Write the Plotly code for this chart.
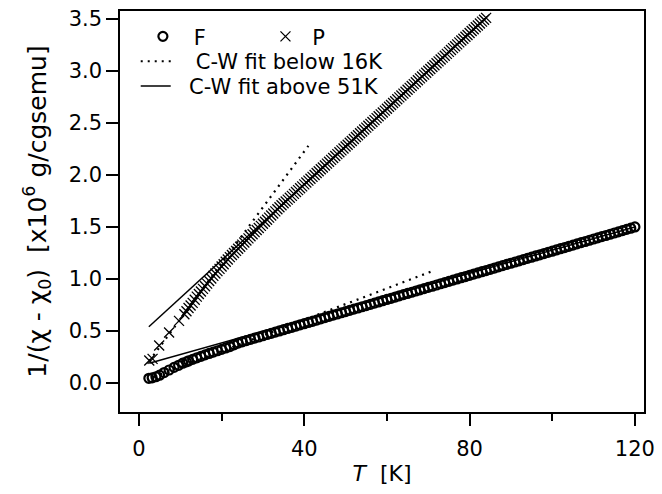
import plotly.graph_objects as go

# ---- measured inverse susceptibility, sample F (open circles) ----
t_f = [2.4, 3.2, 4.1, 5.0, 6.1, 7.3, 8.5, 9.6, 10.6, 11.5,
       12, 13, 14, 15, 16, 17, 18, 19, 20, 21, 22, 23, 24, 25, 26, 27, 28, 29,
       30, 31, 32, 33, 34, 35, 36, 37, 38, 39, 40, 41, 42, 43, 44, 45, 46, 47,
       48, 49, 50, 51, 52, 53, 54, 55, 56, 57, 58, 59, 60, 61, 62, 63, 64, 65,
       66, 67, 68, 69, 70, 71, 72, 73, 74, 75, 76, 77, 78, 79, 80, 81, 82, 83,
       84, 85, 86, 87, 88, 89, 90, 91, 92, 93, 94, 95, 96, 97, 98, 99, 100,
       101, 102, 103, 104, 105, 106, 107, 108, 109, 110, 111, 112, 113, 114,
       115, 116, 117, 118, 119, 120]
inv_f = [0.045, 0.05, 0.06, 0.075, 0.10, 0.125, 0.15, 0.17, 0.19, 0.203,
         0.212, 0.227, 0.242, 0.256, 0.270, 0.284, 0.297, 0.310, 0.323, 0.337,
         0.350, 0.367, 0.384, 0.396, 0.407, 0.419, 0.431, 0.442, 0.454, 0.466,
         0.477, 0.489, 0.500, 0.512, 0.524, 0.535, 0.547, 0.559, 0.570, 0.582,
         0.593, 0.605, 0.617, 0.628, 0.640, 0.652, 0.663, 0.675, 0.686, 0.698,
         0.710, 0.721, 0.733, 0.744, 0.756, 0.768, 0.779, 0.791, 0.803, 0.814,
         0.826, 0.838, 0.849, 0.861, 0.872, 0.884, 0.896, 0.907, 0.919, 0.930,
         0.942, 0.954, 0.965, 0.977, 0.989, 1.000, 1.012, 1.023, 1.035, 1.047,
         1.058, 1.070, 1.081, 1.093, 1.105, 1.116, 1.128, 1.140, 1.151, 1.163,
         1.174, 1.186, 1.198, 1.209, 1.221, 1.232, 1.244, 1.256, 1.267, 1.279,
         1.291, 1.302, 1.314, 1.325, 1.337, 1.349, 1.360, 1.372, 1.384, 1.395,
         1.407, 1.418, 1.430, 1.442, 1.453, 1.465, 1.477, 1.488, 1.500]

# ---- measured inverse susceptibility, sample P (crosses) ----
t_p = [2.5, 3.3, 4.9, 7.3, 9.7,
       11, 11.5, 12, 12.5, 13, 13.5, 14, 14.5, 15, 15.5, 16, 16.5, 17, 17.5,
       18, 18.5, 19, 19.5, 20, 20.5, 21, 21.5, 22, 22.5, 23, 23.5, 24, 24.5,
       25, 25.5, 26, 26.5, 27, 27.5, 28, 28.5, 29, 29.5, 30, 30.5, 31, 31.5,
       32, 32.5, 33, 33.5, 34, 34.5, 35, 35.5, 36, 36.5, 37, 37.5, 38, 38.5,
       39, 39.5, 40, 40.5, 41, 41.5, 42, 42.5, 43, 43.5, 44, 44.5, 45, 45.5,
       46, 46.5, 47, 47.5, 48, 48.5, 49, 49.5, 50, 50.5, 51, 51.5, 52, 52.5,
       53, 53.5, 54, 54.5, 55, 55.5, 56, 56.5, 57, 57.5, 58, 58.5, 59, 59.5,
       60, 60.5, 61, 61.5, 62, 62.5, 63, 63.5, 64, 64.5, 65, 65.5, 66, 66.5,
       67, 67.5, 68, 68.5, 69, 69.5, 70, 70.5, 71, 71.5, 72, 72.5, 73, 73.5,
       74, 74.5, 75, 75.5, 76, 76.5, 77, 77.5, 78, 78.5, 79, 79.5, 80, 80.5,
       81, 81.5, 82, 82.5, 83, 83.5, 84]
inv_p = [0.216, 0.232, 0.36, 0.486, 0.597,
         0.660, 0.690, 0.720, 0.745, 0.770, 0.800, 0.830, 0.855, 0.880, 0.905,
         0.930, 0.955, 0.980, 1.005, 1.030, 1.052, 1.075, 1.097, 1.120, 1.142,
         1.165, 1.187, 1.210, 1.230, 1.250, 1.270, 1.290, 1.310, 1.330, 1.350,
         1.370, 1.390, 1.410, 1.430, 1.450, 1.470, 1.490, 1.510, 1.530, 1.550,
         1.570, 1.590, 1.610, 1.630, 1.650, 1.670, 1.690, 1.708, 1.727, 1.745,
         1.763, 1.781, 1.799, 1.818, 1.836, 1.854, 1.872, 1.890, 1.909, 1.927,
         1.945, 1.963, 1.981, 2.000, 2.018, 2.036, 2.054, 2.072, 2.091, 2.109,
         2.127, 2.145, 2.163, 2.182, 2.200, 2.218, 2.236, 2.254, 2.273, 2.291,
         2.309, 2.327, 2.345, 2.364, 2.382, 2.400, 2.418, 2.436, 2.455, 2.473,
         2.491, 2.509, 2.527, 2.546, 2.564, 2.582, 2.600, 2.618, 2.637, 2.655,
         2.673, 2.691, 2.709, 2.728, 2.746, 2.764, 2.782, 2.800, 2.819, 2.837,
         2.855, 2.873, 2.891, 2.910, 2.928, 2.946, 2.964, 2.982, 3.001, 3.019,
         3.037, 3.055, 3.073, 3.092, 3.110, 3.128, 3.146, 3.164, 3.183, 3.201,
         3.219, 3.237, 3.255, 3.274, 3.292, 3.310, 3.328, 3.346, 3.365, 3.383,
         3.401, 3.419, 3.437, 3.456, 3.474, 3.492, 3.510]

# ---- Curie-Weiss fit lines (end points) ----
fit_low_f_t = [2.0, 71.0]
fit_low_f_v = [0.035, 1.075]
fit_high_f_t = [2.5, 120.0]
fit_high_f_v = [0.19, 1.50]
fit_low_p_t = [2.5, 41.0]
fit_low_p_v = [0.21, 2.28]
fit_high_p_t = [2.4, 84.0]
fit_high_p_v = [0.54, 3.51]

x_ticks = [0, 40, 80, 120]
x_minor_ticks = [20, 60, 100]

FONT = "DejaVu Sans"
BLACK = "black"
DOTS = "2px,5px"
NBSP = "\u00a0"

fig = go.Figure()

# fit lines
fig.add_trace(go.Scatter(x=fit_low_f_t, y=fit_low_f_v, mode="lines",
                         line=dict(color=BLACK, width=2.2, dash=DOTS),
                         name=NBSP * 3 + "C-W fit below 16K", legend="legend2"))
fig.add_trace(go.Scatter(x=fit_high_f_t, y=fit_high_f_v, mode="lines",
                         line=dict(color=BLACK, width=1.5),
                         name=NBSP * 2 + "C-W fit above 51K", legend="legend4"))
fig.add_trace(go.Scatter(x=fit_low_p_t, y=fit_low_p_v, mode="lines",
                         line=dict(color=BLACK, width=2.2, dash=DOTS),
                         showlegend=False))
fig.add_trace(go.Scatter(x=fit_high_p_t, y=fit_high_p_v, mode="lines",
                         line=dict(color=BLACK, width=1.5),
                         showlegend=False))

# data
fig.add_trace(go.Scatter(x=t_f, y=inv_f, mode="markers", name=NBSP + "\u2009F",
                         legend="legend",
                         marker=dict(symbol="circle-open", size=9,
                                     color=BLACK, line=dict(width=2.2, color=BLACK))))
fig.add_trace(go.Scatter(x=t_p, y=inv_p, mode="markers", name=NBSP + "P",
                         legend="legend3",
                         marker=dict(symbol="x-thin-open", size=10,
                                     color=BLACK, line=dict(width=1.3, color=BLACK))))

axis_common = dict(
    showline=True, linecolor=BLACK, linewidth=1.5, mirror=True,
    ticks="outside", ticklen=12, tickwidth=1.5, tickcolor=BLACK,
    showgrid=False, zeroline=False,
    tickfont=dict(family=FONT, size=21, color=BLACK),
)

legend_common = dict(bgcolor="rgba(0,0,0,0)", xanchor="left", yanchor="top",
                     font=dict(family=FONT, size=21, color=BLACK))

fig.update_layout(
    width=662, height=494,
    margin=dict(l=120, r=16, t=7, b=82),
    paper_bgcolor="white", plot_bgcolor="white",
    font=dict(family=FONT, size=21, color=BLACK),
    xaxis=dict(range=[-4.58, 122.2], tickvals=x_ticks, ticklabelstandoff=5,
               minor=dict(tickvals=x_minor_ticks, ticks="outside", ticklen=7,
                          tickwidth=1.5, tickcolor=BLACK, showgrid=False),
               title=dict(text="<i>T</i>  [K]", standoff=6,
                          font=dict(family=FONT, size=22, color=BLACK)),
               **axis_common),
    yaxis=dict(range=[-0.279, 3.576], dtick=0.5, tick0=0, tickformat=".1f",
               title=dict(text="1/(χ - χ<sub>0</sub>)  [x10<sup>6</sup> g/cgsemu]",
                          standoff=15,
                          font=dict(family=FONT, size=25, color=BLACK)),
               **axis_common),
    legend=dict(x=0.0437, y=0.987, **legend_common),
    legend3=dict(x=0.2776, y=0.987, **legend_common),
    legend2=dict(x=0.03, y=0.925, **legend_common),
    legend4=dict(x=0.03, y=0.863, **legend_common),
    showlegend=True,
)

fig.write_html("out.html")
